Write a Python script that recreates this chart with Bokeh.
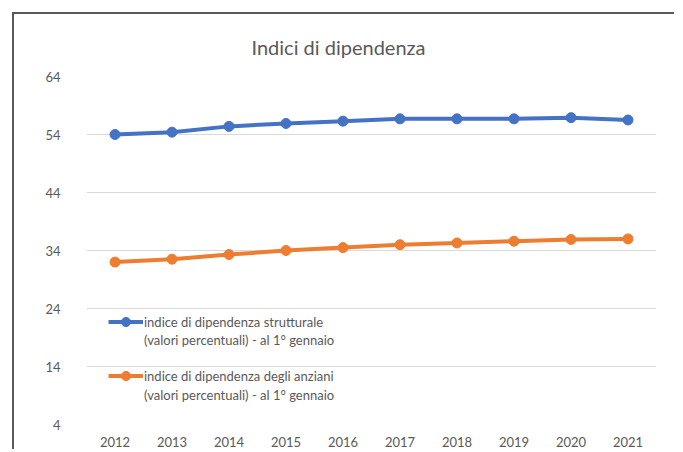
from bokeh.plotting import figure
from bokeh.models import FixedTicker, Range1d, FactorRange, Legend, LegendItem
from bokeh.embed import file_html
from bokeh.resources import INLINE

years = ["2012", "2013", "2014", "2015", "2016", "2017", "2018", "2019", "2020", "2021"]
strutturale = [54.0, 54.4, 55.4, 55.9, 56.3, 56.7, 56.7, 56.7, 56.9, 56.5]
anziani = [32.0, 32.5, 33.3, 34.0, 34.5, 35.0, 35.3, 35.6, 35.9, 36.0]
y_ticks = [4, 14, 24, 34, 44, 54, 64]
label_strutturale = ["indice di dipendenza strutturale", "(valori percentuali) - al 1° gennaio"]
label_anziani = ["indice di dipendenza degli anziani", "(valori percentuali) - al 1° gennaio"]
title_text = "Indici di dipendenza"

BLUE = "#4472C4"
ORANGE = "#ED7D31"
GREY = "#595959"
FONT = "Lato"

p = figure(
    x_range=FactorRange(*years, range_padding=0),
    y_range=Range1d(4, 64),
    frame_width=570, frame_height=348,
    min_border_left=72, min_border_top=62, min_border_right=18, min_border_bottom=20,
    output_backend="svg", toolbar_location=None,
    title=title_text,
)
p.margin = (12, 0, 0, 12)
p.styles = {"border-top": "2px solid #595959", "border-left": "2px solid #595959"}

p.title.align = "left"
p.title.offset = 165
p.title.text_font = FONT
p.title.text_font_size = "20px"
p.title.text_font_style = "normal"
p.title.text_color = GREY
p.title.standoff = 35

p.outline_line_color = None
p.xgrid.grid_line_color = None
p.ygrid.grid_line_color = "#D9D9D9"
p.ygrid.grid_line_width = 1
p.yaxis.ticker = FixedTicker(ticks=y_ticks)

for ax in (p.xaxis, p.yaxis):
    ax.axis_line_color = None
    ax.major_tick_line_color = None
    ax.minor_tick_line_color = None
    ax.major_label_text_font = FONT
    ax.major_label_text_font_size = "13px"
    ax.major_label_text_color = GREY
p.yaxis.major_label_standoff = 20
p.xaxis.major_label_standoff = 6

r1 = p.line(years, strutturale, line_color=BLUE, line_width=4)
s1 = p.scatter(years, strutturale, marker="circle", size=10, fill_color=BLUE, line_color=BLUE)
r2 = p.line(years, anziani, line_color=ORANGE, line_width=4)
s2 = p.scatter(years, anziani, marker="circle", size=10, fill_color=ORANGE, line_color=ORANGE)
# invisible companions used only to hold the second line of each legend label
h1 = p.line(years, strutturale, line_alpha=0)
h2 = p.line(years, anziani, line_alpha=0)


def one_line_legend(label, renderers, loc, gh):
    return Legend(
        items=[LegendItem(label=label, renderers=renderers)],
        location=loc, padding=0, margin=0, spacing=0,
        background_fill_alpha=0, border_line_alpha=0,
        label_text_font=FONT, label_text_font_size="13px", label_text_color=GREY,
        glyph_width=35, glyph_height=gh, label_standoff=1,
    )


p.add_layout(one_line_legend(label_strutturale[0], [r1, s1], (22, 91), 23))
p.add_layout(one_line_legend(label_strutturale[1], [h1], (22, 75), 19))
p.add_layout(one_line_legend(label_anziani[0], [r2, s2], (22, 37), 23))
p.add_layout(one_line_legend(label_anziani[1], [h2], (22, 20), 19))

open("out.html", "w").write(file_html(p, INLINE))
